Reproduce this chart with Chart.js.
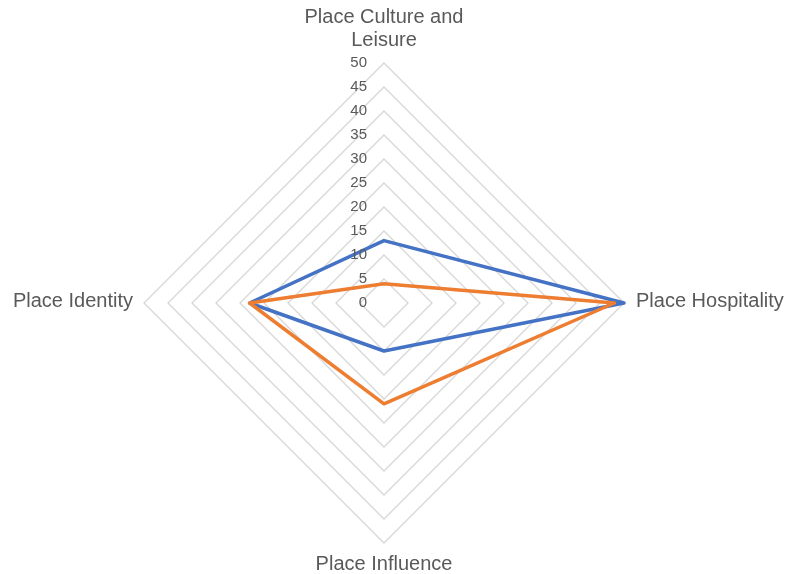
<!DOCTYPE html>
<html>
<head>
<meta charset="utf-8">
<script src="https://cdn.jsdelivr.net/npm/chart.js@4/dist/chart.umd.min.js"></script>
<style>
  html, body { margin: 0; padding: 0; background: #fff; }
  #wrap { width: 788px; height: 574px; }
</style>
</head>
<body>
<div id="wrap"><canvas id="chart"></canvas></div>
<script>
  var categories = [
    ['Place Culture and', 'Leisure'],
    'Place Hospitality',
    'Place Influence',
    'Place Identity'
  ];
  var series1 = [13, 50, 10, 28];   // blue
  var series2 = [4, 48, 21, 28];    // orange
  var tickValues = [0, 5, 10, 15, 20, 25, 30, 35, 40, 45, 50];

  var textColor = '#595959';
  var fontFamily = '"Liberation Sans", Arial, Helvetica, sans-serif';

  // tick labels to the left of the vertical axis, and the category labels
  // placed off the scale's own point positions
  var radarText = {
    id: 'radarText',
    afterDatasetsDraw: function (chart) {
      var r = chart.scales.r;
      var ctx = chart.ctx;
      var R = r.drawingArea;
      ctx.save();
      ctx.fillStyle = textColor;

      ctx.font = '15px ' + fontFamily;
      ctx.textAlign = 'right';
      ctx.textBaseline = 'middle';
      tickValues.forEach(function (v) {
        var d = r.getDistanceFromCenterForValue(v);
        ctx.fillText(String(v), r.xCenter - 17, r.yCenter - d);
      });

      ctx.font = '20px ' + fontFamily;
      ctx.textBaseline = 'alphabetic';
      var p;
      // top
      p = r.getPointPosition(0, R);
      ctx.textAlign = 'center';
      ctx.fillText(categories[0][0], p.x, p.y - 40);
      ctx.fillText(categories[0][1], p.x, p.y - 17);
      // right
      p = r.getPointPosition(1, R);
      ctx.textAlign = 'left';
      ctx.fillText(categories[1], p.x + 12, p.y + 4);
      // bottom
      p = r.getPointPosition(2, R);
      ctx.textAlign = 'center';
      ctx.fillText(categories[2], p.x, p.y + 27);
      // left
      p = r.getPointPosition(3, R);
      ctx.textAlign = 'right';
      ctx.fillText(categories[3], p.x - 11, p.y + 4);

      ctx.restore();
    }
  };

  new Chart(document.getElementById('chart'), {
    type: 'radar',
    data: {
      labels: categories,
      datasets: [
        {
          label: 'Series1',
          data: series1,
          borderColor: '#4472C4',
          borderWidth: 3.5,
          borderJoinStyle: 'round',
          pointRadius: 0,
          fill: false,
          order: 2
        },
        {
          label: 'Series2',
          data: series2,
          borderColor: '#ED7D31',
          borderWidth: 3.5,
          borderJoinStyle: 'round',
          pointRadius: 0,
          fill: false,
          order: 1
        }
      ]
    },
    options: {
      responsive: true,
      maintainAspectRatio: false,
      animation: false,
      layout: { padding: { left: 0, right: 20, top: 63, bottom: 31 } },
      plugins: {
        legend: { display: false },
        tooltip: { enabled: false }
      },
      scales: {
        r: {
          min: 0,
          max: 50,
          ticks: { stepSize: 5, display: false },
          grid: { color: '#d6d6d6', lineWidth: 1.3, circular: false },
          angleLines: { display: false },
          pointLabels: { display: false }
        }
      }
    },
    plugins: [radarText]
  });
</script>
</body>
</html>
